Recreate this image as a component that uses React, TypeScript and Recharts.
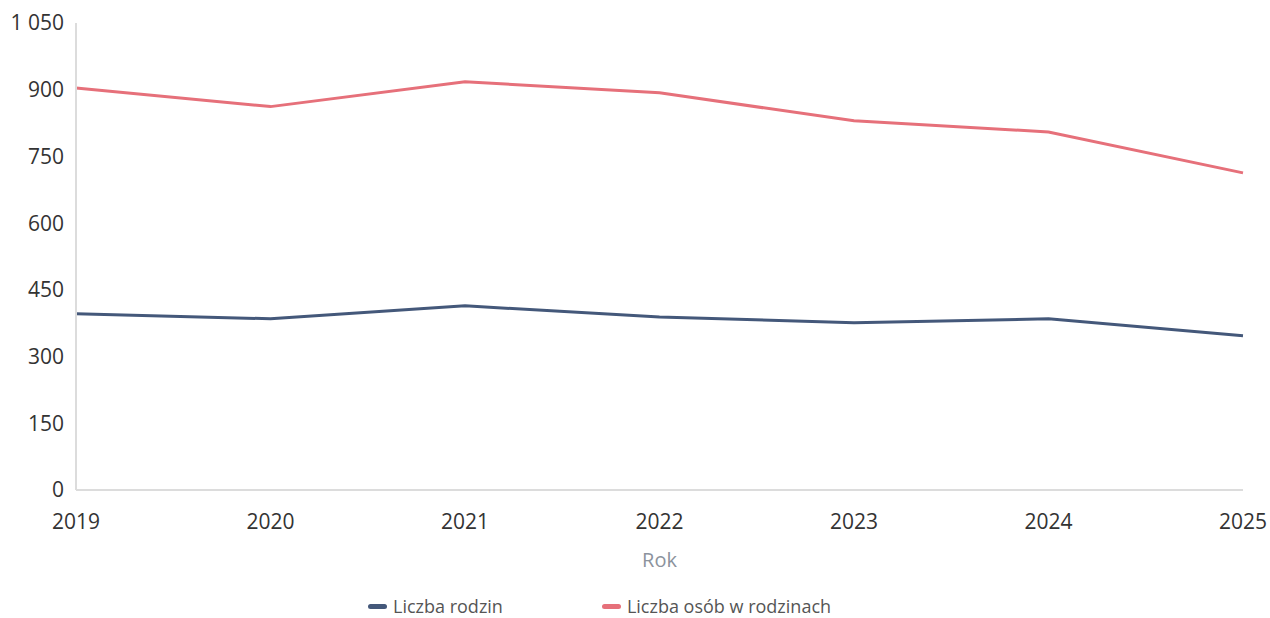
import { Legend, Line, LineChart, XAxis, YAxis } from "recharts";

const years = ["2019", "2020", "2021", "2022", "2023", "2024", "2025"];
const liczbaRodzin = [396, 385, 414, 389, 376, 385, 347];
const liczbaOsob = [904, 862, 918, 893, 830, 805, 713];
const yTicks = [0, 150, 300, 450, 600, 750, 900, 1050];

const BLUE = "#44587a";
const RED = "#e6707a";
const AXIS_LINE = "#dcdcdc";
const TEXT = "#333333";
const FONT = "'Open Sans', sans-serif";

const rows = years.map((year, i) => ({
  year,
  rodziny: liczbaRodzin[i],
  osoby: liczbaOsob[i],
}));

const legendItems = [
  { label: "Liczba rodzin", color: BLUE },
  { label: "Liczba osób w rodzinach", color: RED },
];

function ChartLegend() {
  return (
    <div style={{ display: "flex", alignItems: "center", height: 24, fontFamily: FONT, fontSize: 18, color: "#555" }}>
      {legendItems.map((item, i) => (
        <div key={item.label} style={{ display: "flex", alignItems: "center", marginRight: i === 0 ? 99 : 0 }}>
          <span
            style={{
              display: "inline-block",
              width: 19,
              height: 5,
              borderRadius: 3,
              background: item.color,
              marginRight: 6,
            }}
          />
          <span>{item.label}</span>
        </div>
      ))}
    </div>
  );
}

// Polish style thousands separator: "1 050"
const fmt = (v: number) => (v >= 1000 ? `${Math.floor(v / 1000)} ${String(v % 1000).padStart(3, "0")}` : String(v));

export default function App() {
  return (
    <div>
      <style>{"body{margin:0} .recharts-surface{overflow:visible}"}</style>
      <LineChart
        width={1270}
        height={618}
        data={rows}
        margin={{ top: 23, right: 27, bottom: 27, left: 0 }}
        style={{ fontFamily: FONT }}
      >
        <XAxis
          dataKey="year"
          height={77}
          tickSize={0}
          tickMargin={24}
          axisLine={{ stroke: AXIS_LINE, strokeWidth: 2 }}
          tick={{ fill: TEXT, fontSize: 21 }}
          label={{ value: "Rok", position: "insideBottom", offset: 0, fill: "#8c939d", fontSize: 20 }}
        />
        <YAxis
          domain={[0, 1050]}
          ticks={yTicks}
          width={76}
          tickSize={0}
          tickMargin={12}
          tickFormatter={fmt}
          axisLine={{ stroke: AXIS_LINE, strokeWidth: 2 }}
          tick={{ fill: TEXT, fontSize: 21 }}
        />
        <Legend
          verticalAlign="bottom"
          height={24}
          content={<ChartLegend />}
          wrapperStyle={{ left: 368, bottom: 0, width: "auto" }}
        />
        <Line
          dataKey="rodziny"
          name="Liczba rodzin"
          stroke={BLUE}
          strokeWidth={3}
          dot={false}
          isAnimationActive={false}
        />
        <Line
          dataKey="osoby"
          name="Liczba osób w rodzinach"
          stroke={RED}
          strokeWidth={3}
          dot={false}
          isAnimationActive={false}
        />
      </LineChart>
    </div>
  );
}
